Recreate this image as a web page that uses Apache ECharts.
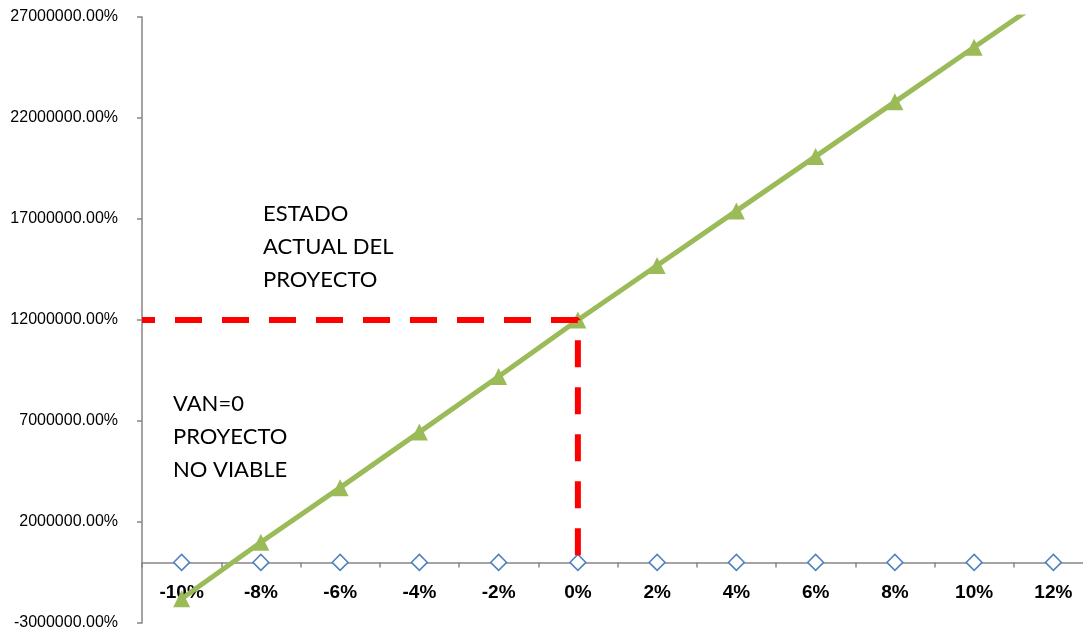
<!DOCTYPE html>
<html>
<head>
<meta charset="utf-8">
<script src="https://cdn.jsdelivr.net/npm/echarts@6/dist/echarts.min.js"></script>
<style>html,body{margin:0;padding:0;background:#fff;}#c{width:1083px;height:633px;}</style>
</head>
<body>
<div id="c"></div>
<script>
var categories = ['-10%','-8%','-6%','-4%','-2%','0%','2%','4%','6%','8%','10%','12%'];
var vanValues = [-1800000, 1000000, 3700000, 6450000, 9200000, 12000000, 14700000, 17400000, 20100000, 22800000, 25500000, 28200000];
var zeroValues = [0,0,0,0,0,0,0,0,0,0,0,0];
var currentIndex = 5;
var currentValue = 12000000;
var yMin = -3000000, yMax = 27000000, yStep = 5000000;
var noteTop = ['ESTADO', 'ACTUAL DEL', 'PROYECTO'];
var noteBottom = ['VAN=0', 'PROYECTO', 'NO VIABLE'];

var redPath = [[0, currentValue], [currentIndex + 0.5, currentValue], [currentIndex + 0.5, 0]];

var gridTop = 17, gridHeight = 606;
// pixel height of the zero line from the top of the plot, derived from the axis range
var zeroOffset = gridHeight * (yMax - 0) / (yMax - yMin);

var chart = echarts.init(document.getElementById('c'), null, {renderer: 'canvas'});
var axisGray = '#868686';
chart.setOption({
  animation: false,
  backgroundColor: '#ffffff',
  grid: [
    {left: 142, top: gridTop, width: 951, height: gridHeight, containLabel: false, outerBoundsMode: 'none'},
    {left: 142, top: gridTop, width: 951, height: zeroOffset, containLabel: false, outerBoundsMode: 'none'}
  ],
  xAxis: [{
    type: 'category',
    gridIndex: 0,
    data: categories,
    boundaryGap: true,
    axisLine: {onZero: true, lineStyle: {color: axisGray, width: 1.5}},
    axisTick: {show: true, length: 5, inside: false, lineStyle: {color: axisGray, width: 1.5}},
    axisLabel: {show: false},
    splitLine: {show: false}
  }, {
    type: 'value', gridIndex: 0, min: 0, max: categories.length, show: false
  }, {
    type: 'category',
    gridIndex: 1,
    data: categories,
    boundaryGap: true,
    axisLine: {show: false},
    axisTick: {show: false},
    axisLabel: {margin: 21, color: '#000', fontFamily: 'Arial, Liberation Sans', fontSize: 19, fontWeight: 'bold', interval: 0},
    splitLine: {show: false}
  }],
  yAxis: [{
    type: 'value',
    gridIndex: 0,
    min: yMin, max: yMax, interval: yStep,
    axisLine: {show: true, lineStyle: {color: axisGray, width: 1.5}},
    axisTick: {show: true, length: 5, lineStyle: {color: axisGray, width: 1.5}},
    axisLabel: {margin: 24, color: '#000', fontFamily: 'Arial, Liberation Sans', fontSize: 16,
      formatter: function (v) { return v.toFixed(2) + '%'; }},
    splitLine: {show: false}
  }, {
    type: 'value', gridIndex: 1, min: 0, max: yMax, show: false
  }],
  series: [{
    type: 'line',
    data: zeroValues,
    z: 2,
    symbol: 'diamond',
    symbolSize: [16, 16],
    showAllSymbol: true,
    lineStyle: {width: 0, opacity: 0},
    itemStyle: {color: '#ffffff', borderColor: '#4F81BD', borderWidth: 1.5}
  }, {
    type: 'line',
    data: vanValues,
    z: 3,
    clip: true,
    symbol: 'triangle',
    symbolSize: [17, 17],
    showAllSymbol: true,
    lineStyle: {width: 5, color: '#9BBB59'},
    itemStyle: {color: '#9BBB59'}
  }, {
    type: 'line',
    xAxisIndex: 1,
    data: redPath,
    z: 4,
    symbol: 'none',
    lineStyle: {width: 6, color: '#FF0000', type: [27, 20], dashOffset: 14, cap: 'butt'}
  }],
  graphic: [{
    type: 'text', left: 263, top: 197,
    style: {text: noteTop.join('\n'), font: '22px Lato, Carlito, sans-serif', lineHeight: 33, fill: '#000'}
  }, {
    type: 'text', left: 173, top: 387,
    style: {text: noteBottom.join('\n'), font: '22px Lato, Carlito, sans-serif', lineHeight: 33, fill: '#000'}
  }]
});
</script>
</body>
</html>
